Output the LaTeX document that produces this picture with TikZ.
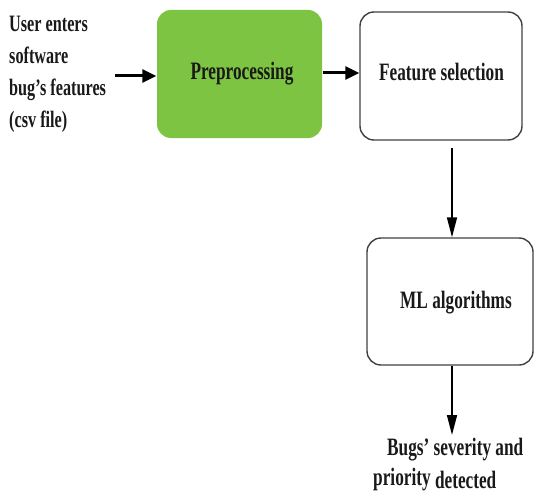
\documentclass[tikz,border=0pt]{standalone}
\usepackage{fontspec}
\setmainfont{Liberation Serif}[FakeStretch=0.69]
\usetikzlibrary{arrows.meta}
\definecolor{boxgreen}{RGB}{125,196,66}
\begin{document}
\begin{tikzpicture}[x=1pt,y=-1pt,
  every node/.style={font=\bfseries\fontsize{25}{32}\selectfont, text=black!90},
  procbox/.style={draw=black!75, line width=1.4pt, rounded corners=14pt, inner sep=0pt},
  flow/.style={-{Triangle[length=20pt,width=10pt]}, line width=1.6pt},
  hflow/.style={-{Triangle[length=14pt,width=13pt]}, line width=3pt}]
\useasboundingbox (0,0) rectangle (534,497);
\node[align=left, anchor=north west, inner sep=0pt, font=\bfseries\fontsize{23.5}{32}\selectfont] (in) at (9,16) {User enters\\software\\bug's features\\(csv file)};
\node[procbox, draw=none, fill=boxgreen, minimum width=165pt, minimum height=128pt] (pre) at (239.5,74) {};
\node (pret) at (242,74) {Preprocessing};
\node[procbox, minimum width=162pt, minimum height=128pt] (fs) at (441,76) {};
\node (fst) at (441.5,72) {Feature selection};
\node[procbox, minimum width=166pt, minimum height=127pt] (ml) at (450,301.5) {};
\node (mlt) at (456,303) {ML algorithms};
\node[anchor=base west, inner sep=0pt] (out) at (387,455) {Bugs' severity and};
\node[anchor=base west, inner sep=0pt] (out2) at (373,485) {priority \raisebox{-3pt}{detected}};
\draw[hflow] (115,76) -- (pre.west |- 0,76);
\draw[hflow] (pre.east |- 0,73) -- (fs.west |- 0,73);
\draw[flow] (452,148) -- (ml.north -| 452,0);
\draw[flow] (ml.south -| 452,0) -- (452,435);
\end{tikzpicture}
\end{document}
